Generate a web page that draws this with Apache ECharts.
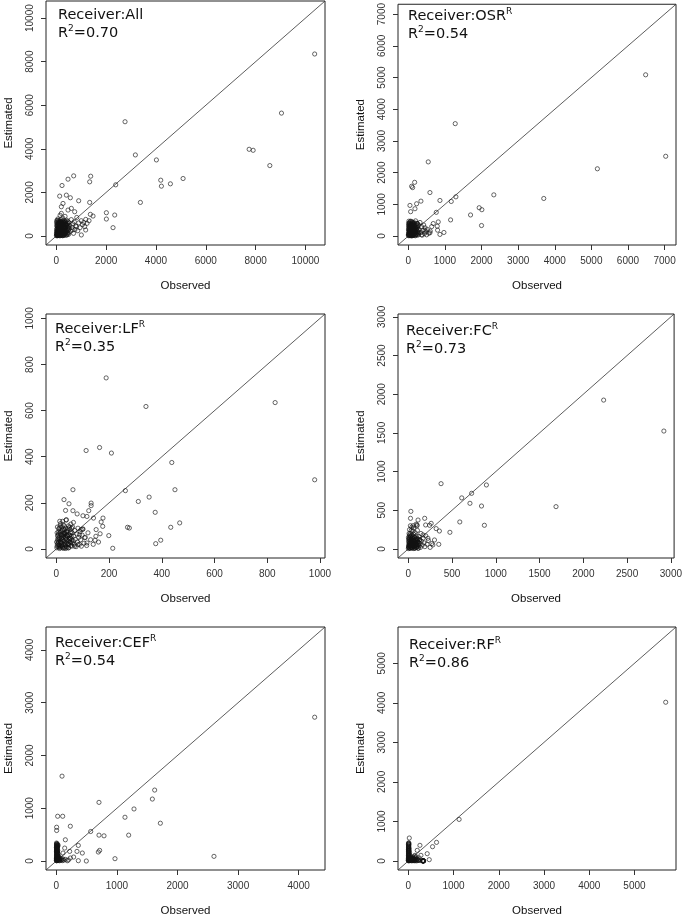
<!DOCTYPE html>
<html>
<head>
<meta charset="utf-8">
<script src="https://cdn.jsdelivr.net/npm/echarts@6/dist/echarts.min.js"></script>
<style>
html,body{margin:0;padding:0;background:#fff;}
#chart{width:685px;height:918px;}
</style>
</head>
<body>
<div id="chart"></div>
<script>
// ---------- DATA ----------
const receivers = ['All', 'OSR', 'LF', 'FC', 'CEF', 'RF'];
const superscriptR = [false, true, true, true, true, true];
const r2Values = ['0.70', '0.54', '0.35', '0.73', '0.54', '0.86'];

const ticksAll = [0, 2000, 4000, 6000, 8000, 10000];
const ticksOSR = [0, 1000, 2000, 3000, 4000, 5000, 6000, 7000];
const ticksLF = [0, 200, 400, 600, 800, 1000];
const ticksFC = [0, 500, 1000, 1500, 2000, 2500, 3000];
const ticksCEF = [0, 1000, 2000, 3000, 4000];
const ticksRF = [0, 1000, 2000, 3000, 4000, 5000];

// [Observed, Estimated]
const pointsAll = [
  [10370,8352],[9038,5639],[7740,3978],[7900,3932],[8570,3231],[5088,2637],[4579,2393],[4191,2560],
  [4218,2286],[4017,3490],[3374,1539],[3173,3719],[2758,5243],[2383,2347],[2343,960],[2276,381],
  [2009,1067],[2009,777],[1379,2743],[1339,2484],[1339,1539],[1473,914],[1366,991],[897,1615],
  [696,2758],[469,2606],[228,2316],[134,1829],[402,1874],[562,1753],[268,1493],[201,1341],
  [469,1189],[603,1265],[736,1112],[201,1036],[1004,46],[1178,274],[1138,427],[1232,579],
  [1312,701],[803,427],[643,274],
  [5,10],[12,40],[20,85],[30,150],[45,60],[60,220],[75,300],[90,120],[100,410],[110,30],
  [120,250],[135,520],[150,90],[160,360],[175,640],[185,180],[200,280],[210,470],[225,60],[240,390],
  [250,700],[265,150],[280,560],[295,250],[310,430],[330,80],[345,620],[360,320],[380,180],[400,520],
  [420,720],[440,260],[460,400],[480,130],[500,600],[520,340],[545,480],[570,220],[600,750],[630,380],
  [660,560],[690,120],[720,650],[750,300],[780,460],[820,850],[860,240],[900,600],[950,380],[1000,700],
  [1050,520],[1100,620],[1180,760],[15,300],[25,500],[35,650],[50,720],[70,580],[85,30],[95,700],
  [140,8],[170,45],[190,760],[230,640],[260,820],[300,20],[320,700],[350,900],[150,950],[60,780],
  [40,420],[80,470],[130,180],[210,110],[270,380],[390,30],[430,90],[470,660],[20,200],[55,350],
  [100,180],[140,300],[180,420],[65,130],[115,560],[205,30],[250,230],[35,20],[90,260],[160,110],
  [8,120],[18,220],[28,330],[38,90],[48,180],[58,440],[68,270],[78,50],[88,380],[98,150],[108,610],
  [118,340],[128,80],[138,420],[148,230],[158,560],[168,130],[178,310],[188,40],[198,490],[208,200],
  [218,350],[228,590],[238,110],[248,460],[258,290],[268,20],[278,400],[288,170],[298,520],[308,320],
  [318,140],[328,470],[338,240],[348,60],[358,550],[368,380],[378,120],[388,660],[398,290],[408,200],
  [418,440],[428,50],[438,580],[448,340],[458,150],[468,490],[478,260],[488,70],[498,410],[10,600],
  [22,450],[42,540],[62,30],[82,620],[102,250],[122,480],[142,680],[162,20],[182,580],[202,380],
  [222,160],[242,540],[262,70],[282,650],[302,110],[322,580],[342,400],[362,200],[382,500],[30,50],
  [50,10],[70,380],[90,540],[110,200],[130,640],[150,320],[170,500],[190,260],[210,640],[230,430],
  [250,10],[270,520],[290,80],[310,610],[330,270],[350,160],[370,640],[15,700],[45,250]
];
const pointsOSR = [
  [7030,2517],[6482,5086],[5164,2122],[3700,1186],[2336,1300],[2009,832],[1936,894],[2000,333],
  [1700,666],[1282,3546],[1300,1238],[1173,1092],[1155,510],[864,1123],[764,749],[545,2340],
  [591,1373],[173,1695],[91,1570],[118,1529],[345,1102],[45,967],[64,770],[182,863],[227,1019],
  [818,447],[791,312],[800,187],[864,52],[973,114],[682,395],[591,104],[455,187],[364,42],
  [5,20],[10,80],[15,150],[20,250],[25,380],[30,420],[40,40],[50,200],[60,320],[70,100],
  [80,280],[90,450],[100,30],[110,160],[120,360],[130,240],[140,60],[150,400],[160,120],[170,300],
  [180,20],[190,190],[200,480],[210,90],[220,330],[230,40],[240,250],[250,150],[260,380],[280,60],
  [300,200],[320,430],[340,110],[360,300],[380,30],[400,180],[420,350],[440,80],[460,260],[480,130],
  [500,40],[520,210],[560,90],[600,160],[640,300],[35,180],[45,340],[55,60],[65,470],[75,230],
  [85,10],[95,120],[105,290],[115,50],[125,410],[12,300],[18,10],[28,120],[8,400],
  [3,60],[7,200],[11,340],[16,30],[21,120],[26,280],[31,60],[36,400],[41,140],[46,260],[51,20],
  [56,370],[61,180],[66,90],[71,310],[76,40],[81,220],[86,390],[91,140],[96,60],[101,330],[106,210],
  [111,10],[116,440],[121,100],[126,280],[131,170],[136,360],[141,30],[146,230],[151,120],[156,300],
  [161,60],[166,420],[171,190],[176,80],[181,350],[186,250],[191,10],[196,140],[201,300],[211,200],
  [221,60],[231,400],[241,120],[251,290],[261,30],[271,200],[281,340],[291,120],[14,220],[24,40],
  [34,310],[44,110],[54,450],[64,240],[74,10],[84,160],[94,380],[104,80],[124,20],[144,330],
  [164,260],[184,130],[204,50],[224,220],[244,400],[264,100],[17,470],[27,180]
];
const pointsLF = [
  [980,300],[830,635],[340,618],[189,742],[113,427],[164,440],[209,416],[438,375],[450,257],
  [468,113],[434,94],[396,38],[377,23],[375,159],[352,225],[311,206],[262,253],[270,94],[277,91],
  [214,3],[199,58],[176,98],[177,134],[170,117],[132,199],[132,188],[123,166],[63,257],[48,196],
  [29,214],[63,166],[79,152],[101,144],[116,141],[141,134],[151,84],[166,66],[147,38],[116,26],
  [107,49],[94,84],[101,87],[88,62],[82,19],[69,12],[38,127],[13,120],[35,167],
  [2,5],[4,20],[5,40],[6,60],[8,10],[9,75],[10,30],[11,50],[12,90],[13,15],[14,65],[15,35],
  [16,110],[17,5],[18,80],[19,45],[20,25],[21,95],[22,60],[23,10],[24,120],[25,40],[26,70],[27,20],
  [28,85],[29,55],[30,100],[31,5],[32,30],[33,65],[34,15],[35,90],[36,45],[37,125],[38,25],[39,75],
  [40,8],[42,55],[44,35],[46,100],[48,18],[50,60],[52,85],[54,28],[56,45],[58,12],[60,70],[62,95],
  [64,35],[66,55],[68,20],[70,80],[72,42],[75,10],[78,65],[80,30],[82,90],[85,50],[88,20],[90,75],
  [92,40],[95,12],[98,60],[100,85],[105,25],[110,50],[115,15],[120,70],[130,40],[140,20],[150,55],
  [160,30],[7,45],[3,70],[1,30],[45,5],[55,108],[65,115],[50,95],[24,5],[12,2],[36,2],
  [3,12],[5,55],[7,25],[9,88],[11,8],[13,42],[15,72],[17,28],[19,60],[21,15],[23,82],[25,50],
  [27,3],[29,35],[31,68],[33,20],[35,52],[37,10],[39,40],[41,78],[43,22],[45,62],[47,5],[49,45],
  [51,30],[53,70],[55,15],[57,55],[59,38],[61,25],[4,95],[8,65],[14,100],[20,48],[26,105],[32,82],
  [38,60],[44,88],[50,40],[56,75],[6,32],[10,18],[18,12],[22,38],[28,62],[34,72],[40,58],[46,20],
  [52,48],[58,90]
];
const pointsFC = [
  [2920,1524],[2232,1924],[1688,547],[893,827],[870,306],[837,555],[724,719],[705,590],[611,660],
  [589,349],[476,215],[375,844],[349,60],[356,232],[319,263],[300,116],[281,52],[225,138],[262,331],
  [244,306],[188,396],[199,310],[30,486],[26,396],[112,374],[101,310],[56,301],[169,181],[131,116],
  [2,5],[5,30],[8,70],[10,120],[12,15],[15,50],[18,160],[20,90],[22,8],[25,40],[28,200],[30,130],
  [32,60],[35,20],[38,100],[40,175],[42,45],[45,10],[48,140],[50,70],[52,230],[55,25],[58,110],
  [60,55],[62,190],[65,5],[68,85],[70,150],[72,35],[75,120],[78,65],[80,210],[82,15],[85,95],
  [88,45],[90,170],[92,75],[95,25],[98,130],[100,55],[105,240],[110,10],[115,90],[120,160],[125,40],
  [130,120],[135,70],[140,20],[145,200],[150,100],[160,50],[170,140],[180,80],[190,30],[200,170],
  [215,60],[230,110],[250,20],[270,70],[15,250],[25,300],[40,280],[60,270],[90,320],[100,300],
  [10,200],[5,100],[3,150],[35,240],
  [4,20],[7,50],[11,90],[14,140],[17,35],[21,110],[24,65],[27,155],[31,20],[34,85],[37,125],[41,55],
  [44,15],[47,100],[51,160],[54,40],[57,80],[61,120],[64,30],[67,65],[71,105],[74,10],[77,150],
  [81,45],[84,130],[87,75],[91,20],[94,110],[97,60],[101,140],[104,30],[107,90],[111,125],[114,50],
  [117,10],[121,80],[6,130],[9,40],[13,180],[16,75],[19,10],[23,60],[26,170],[29,95],[33,140],[36,55]
];
const pointsCEF = [
  [4264,2725],[2602,88],[1717,716],[1623,1344],[1585,1174],[1282,986],[1133,829],[1194,490],
  [968,44],[787,477],[704,490],[704,1111],[715,201],[693,170],[567,559],[495,0],[363,6],[363,295],
  [429,151],[341,182],[286,75],[231,57],[220,182],[231,659],[149,402],[138,245],[110,151],[94,1608],
  [105,848],[22,848],[5,640],[5,578],
  [2,5],[3,30],[4,60],[5,90],[6,120],[7,150],[8,180],[9,210],[10,240],[11,270],[12,300],[13,330],
  [3,320],[5,280],[7,250],[9,200],[12,160],[14,110],[16,70],[18,40],[20,15],[22,100],[25,60],[28,30],
  [30,130],[35,10],[40,80],[45,45],[50,20],[55,5],[60,35],[70,12],[80,50],[90,25],[100,8],[110,40],
  [120,15],[150,30],[180,5],[200,20],[15,230],[20,190],[25,140],[30,300],[4,10],[8,45],[6,220],
  [10,5],[18,260],[24,200],
  [1,15],[2,45],[3,75],[4,105],[5,135],[6,165],[7,195],[8,225],[9,255],[10,285],[11,315],[2,340],
  [4,300],[6,270],[8,200],[10,170],[12,130],[14,90],[16,55],[18,20],[1,250],[3,180],[5,60],[7,110],
  [9,30],[15,160],[20,60],[25,20],[30,45],[35,75],[17,120],[13,250],[19,300],[22,280]
];
const pointsRF = [
  [5690,4015],[1123,1052],[624,471],[536,362],[418,185],[463,34],[257,396],[279,143],[22,581],
  [147,143],[198,269],
  [2,5],[3,40],[4,80],[5,120],[6,160],[7,200],[8,240],[9,280],[10,320],[11,360],[12,400],[13,440],
  [4,420],[6,380],[8,300],[10,260],[12,180],[14,140],[16,100],[18,60],[20,30],[25,10],[30,80],
  [35,50],[40,20],[50,100],[60,40],[70,5],[80,60],[90,25],[100,90],[110,10],[120,45],[130,120],
  [140,15],[150,70],[160,35],[170,100],[180,5],[200,50],[220,20],[240,80],[260,10],[310,2],[320,5],
  [330,0],[335,3],[340,1],[325,8],[15,20],[22,150],[28,220],[5,10],[45,130],
  [1,20],[2,60],[3,100],[4,140],[5,180],[6,220],[7,260],[8,340],[9,380],[10,420],[11,460],[2,300],
  [3,250],[4,350],[5,450],[14,30],[20,80],[26,40],[32,10],[38,60],[44,15],[55,30],[65,70],[75,20],
  [85,45],[95,10],[105,30],[115,70],[125,15],[135,40],[145,5],[165,20],[190,40],[210,10],[230,30],
  [330,4],[328,2],[334,6],[322,1],[338,3],[16,200],[18,310],[12,270]
];

const panelPoints = [pointsAll, pointsOSR, pointsLF, pointsFC, pointsCEF, pointsRF];
const panelTicks = [ticksAll, ticksOSR, ticksLF, ticksFC, ticksCEF, ticksRF];

// ---------- LAYOUT ----------
const boxes = [
  {left: 46, top: 1, width: 279, height: 244},
  {left: 398, top: 1, width: 278, height: 244},
  {left: 46, top: 314, width: 279, height: 244},
  {left: 398, top: 314, width: 278, height: 244},
  {left: 46, top: 627, width: 279, height: 245},
  {left: 398, top: 627, width: 278, height: 245}
];
const labelPos = [
  {left: 58, top: 6}, {left: 408, top: 7},
  {left: 55, top: 320}, {left: 406, top: 322},
  {left: 55, top: 634}, {left: 409, top: 636}
];

const TICK_FONT = 'Liberation Sans, Arial, sans-serif';
const TXT_FONT = 'DejaVu Sans, sans-serif';

const grid = [], xAxis = [], yAxis = [], series = [], title = [];

panelPoints.forEach((pts, i) => {
  // R default: axis range extended by 4% on each side of data range
  let maxV = 0;
  pts.forEach(p => { maxV = Math.max(maxV, p[0], p[1]); });
  const lo = -0.04 * maxV, hi = 1.04 * maxV;
  const b = boxes[i];
  grid.push({left: b.left, top: b.top, width: b.width, height: b.height,
    show: true, borderColor: '#222', borderWidth: 1, backgroundColor: 'transparent'});
  const common = {
    type: 'value', gridIndex: i, min: lo, max: hi,
    nameLocation: 'middle',
    nameTextStyle: {fontFamily: TICK_FONT, fontSize: 11.5, color: '#111'},
    axisLine: {show: false, onZero: false},
    splitLine: {show: false},
    axisTick: {show: true, length: 5, inside: false, customValues: panelTicks[i],
      lineStyle: {color: '#333', width: 1}},
    axisLabel: {show: true, customValues: panelTicks[i], margin: 11,
      formatter: v => String(v),
      fontFamily: TICK_FONT, fontSize: 10, color: '#333', showMinLabel: true, showMaxLabel: true}
  };
  xAxis.push(Object.assign({}, common, {name: 'Observed', nameGap: 35, position: 'bottom'}));
  yAxis.push(Object.assign({}, common, {name: 'Estimated', nameGap: 31, position: 'left',
    axisLabel: Object.assign({}, common.axisLabel, {rotate: 90})}));
  series.push({
    type: 'line', xAxisIndex: i, yAxisIndex: i, data: [[lo, lo], [hi, hi]],
    symbol: 'none', silent: true, lineStyle: {color: '#333', width: 0.8}, z: 1
  });
  series.push({
    type: 'scatter', xAxisIndex: i, yAxisIndex: i, data: pts,
    symbol: 'circle', symbolSize: 4.2, silent: true,
    itemStyle: {color: 'rgba(0,0,0,0)', borderColor: '#111', borderWidth: 0.8},
    z: 2
  });
  const line1 = 'Receiver:' + receivers[i] + (superscriptR[i] ? '{sup|R}' : '');
  const line2 = 'R{sup|2}=' + r2Values[i];
  title.push({
    text: line1 + '\n' + line2,
    left: labelPos[i].left, top: labelPos[i].top, padding: 0,
    textStyle: {fontFamily: TXT_FONT, fontSize: 14.5, fontWeight: 'normal', color: '#111',
      lineHeight: 18,
      rich: {sup: {fontFamily: TXT_FONT, fontSize: 9, lineHeight: 10, verticalAlign: 'top', color: '#111'}}}
  });
});

const chart = echarts.init(document.getElementById('chart'), null, {renderer: 'canvas'});
chart.setOption({animation: false, backgroundColor: '#fff', title, grid, xAxis, yAxis, series});
</script>
</body>
</html>
